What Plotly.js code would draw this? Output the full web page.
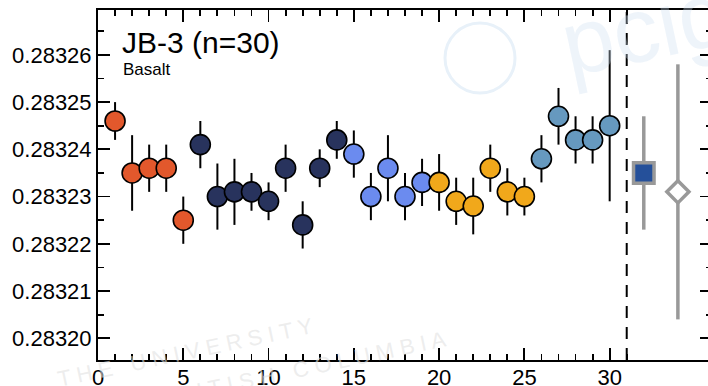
<!DOCTYPE html>
<html>
<head>
<meta charset="utf-8">
<script src="https://cdn.plot.ly/plotly-3.0.1.min.js"></script>
<style>
html,body{margin:0;padding:0;overflow:hidden;background:#fff;width:708px;height:386px;}
#chart{width:712px;height:386px;}
</style>
</head>
<body>
<div id="chart"></div>
<script>
// ---- data ----
const runIndex = [1,2,3,4,5,6,7,8,9,10,11,12,13,14,15,16,17,18,19,20,21,22,23,24,25,26,27,28,29,30];
const hfRatio = [0.283246,0.283235,0.283236,0.283236,0.283225,0.283241,0.283230,0.283231,0.283231,0.283229,
                 0.283236,0.283224,0.283236,0.283242,0.283239,0.283230,0.283236,0.283230,0.283233,0.283233,
                 0.283229,0.283228,0.283236,0.283231,0.283230,0.283238,0.283247,0.283242,0.283242,0.283245];
const hfErr = [0.0000040,0.0000080,0.0000050,0.0000050,0.0000050,0.0000050,0.0000070,0.0000070,0.0000040,0.0000040,
               0.0000050,0.0000050,0.0000040,0.0000040,0.0000050,0.0000050,0.0000070,0.0000050,0.0000050,0.0000060,
               0.0000050,0.0000060,0.0000050,0.0000050,0.0000040,0.0000050,0.0000060,0.0000050,0.0000050,0.0000160];
const session = [0,0,0,0,0,1,1,1,1,1,1,1,1,1,2,2,2,2,2,3,3,3,3,3,3,4,4,4,4,4];
const sessionColors = ['#e2582c','#28335d','#6b8bef','#f1a81b','#6699bf'];

const meanX = [32], meanY = [0.283235], meanErr = [0.0000120];
const refX = [34], refY = [0.283231], refErr = [0.0000270];

const xTickVals = [0,5,10,15,20,25,30];
const xTickText = ['0','5','10','15','20','25','30'];
const xMinorVals = [1,2,3,4,6,7,8,9,11,12,13,14,16,17,18,19,21,22,23,24,26,27,28,29,31];
const yTickVals = [0.28320,0.28321,0.28322,0.28323,0.28324,0.28325,0.28326];
const yTickText = ['0.28320','0.28321','0.28322','0.28323','0.28324','0.28325','0.28326'];
const yMinorVals = [0.283205,0.283215,0.283225,0.283235,0.283245,0.283255,0.283265];

// ---- traces ----
const traces = [];
traces.push({
  x: meanX, y: meanY, type:'scatter', mode:'markers',
  error_y:{type:'data', array: meanErr, color:'#999999', thickness:3.5, width:0},
  marker:{symbol:'square', size:20.5, color:'#25509a', line:{color:'#999999', width:3.5}},
  hoverinfo:'skip'
});
traces.push({
  x: refX, y: refY, type:'scatter', mode:'markers',
  error_y:{type:'data', array: refErr, color:'#999999', thickness:3.5, width:0},
  marker:{symbol:'diamond', size:17, color:'#ffffff', line:{color:'#999999', width:3.5}},
  hoverinfo:'skip'
});
traces.push({
  x: runIndex, y: hfRatio, type:'scatter', mode:'markers',
  error_y:{type:'data', array: hfErr, color:'#000000', thickness:2, width:0},
  marker:{size:20, color: session.map(s => sessionColors[s]), line:{color:'#000000', width:1.6}},
  hoverinfo:'skip'
});

const font = 'Liberation Sans, Arial, Helvetica, sans-serif';
const layout = {
  width:712, height:386,
  margin:{l:98, r:0, t:10, b:26, pad:0},
  paper_bgcolor:'#ffffff', plot_bgcolor:'rgba(0,0,0,0)',
  showlegend:false,
  font:{family:font, color:'#000000'},
  xaxis:{
    range:[0,36], showline:true, linecolor:'#000000', linewidth:2, mirror:'ticks',
    ticks:'inside', ticklen:12, tickwidth:1.8, tickcolor:'#000000',
    tickmode:'array', tickvals:xTickVals, ticktext:xTickText, ticklabelstandoff:-3,
    tickfont:{family:font, size:22, color:'#000000'},
    showgrid:false, zeroline:false, fixedrange:true,
    minor:{tickmode:'array', tickvals:xMinorVals, ticks:'inside', ticklen:6, tickwidth:1.8, tickcolor:'#000000', showgrid:false}
  },
  yaxis:{
    range:[0.2831954,0.2832695], showline:true, linecolor:'#000000', linewidth:2, mirror:'ticks',
    ticks:'inside', ticklen:12, tickwidth:1.8, tickcolor:'#000000',
    tickmode:'array', tickvals:yTickVals, ticktext:yTickText,
    tickfont:{family:font, size:22, color:'#000000'},
    showgrid:false, zeroline:false, fixedrange:true,
    minor:{tickmode:'array', tickvals:yMinorVals, ticks:'inside', ticklen:6, tickwidth:1.8, tickcolor:'#000000', showgrid:false}
  },
  shapes:[
    {type:'line', xref:'x', yref:'paper', x0:31, x1:31, y0:0, y1:1, line:{color:'#000000', width:2, dash:'12px,9px'}},
    {type:'circle', xref:'paper', yref:'paper', layer:'below',
     x0:(445-98)/614, x1:(515-98)/614, y0:(360-93)/350, y1:(360-23)/350, line:{color:'#e8f1f9', width:3}}
  ],
  annotations:[
    {text:'pcig', xref:'paper', yref:'paper', x:(645-98)/614, y:(360-28)/350, xanchor:'center', yanchor:'middle',
     showarrow:false, textangle:-12, font:{family:font, size:92, color:'rgba(205,224,242,0.35)'}},
    {text:'T H E   U N I V E R S I T Y', xref:'paper', yref:'paper', x:(185-98)/614, y:(360-352)/350, xanchor:'center', yanchor:'middle',
     showarrow:false, textangle:-12, font:{family:font, size:22, color:'rgba(225,225,225,0.6)'}},
    {text:'B R I T I S H   C O L U M B I A', xref:'paper', yref:'paper', x:(300-98)/614, y:(360-370)/350, xanchor:'center', yanchor:'middle',
     showarrow:false, textangle:-12, font:{family:font, size:22, color:'rgba(225,225,225,0.6)'}},
    {text:'JB-3 (n=30)', xref:'paper', yref:'paper', x:(120-98)/614, y:(360-42)/350, xanchor:'left', yanchor:'middle',
     showarrow:false, font:{family:font, size:30, color:'#000000'}},
    {text:'Basalt', xref:'paper', yref:'paper', x:(121-98)/614, y:(360-70)/350, xanchor:'left', yanchor:'middle',
     showarrow:false, font:{family:font, size:17, color:'#000000'}}
  ]
};

Plotly.newPlot('chart', traces, layout, {staticPlot:true, displayModeBar:false});
</script>
</body>
</html>
